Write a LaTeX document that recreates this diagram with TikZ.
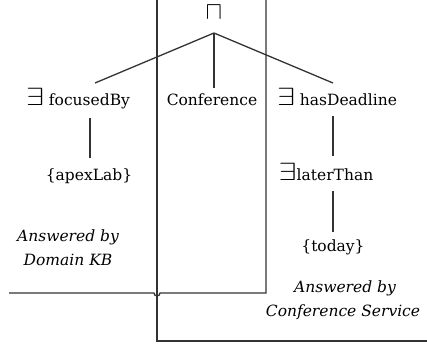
\documentclass[tikz,border=0pt]{standalone}
\usepackage{fontspec}
\setmainfont{DejaVu Serif}
\newcommand{\myex}{\scalebox{1.3}[1]{\fontsize{23}{24}\selectfont$\exists$}}
\begin{document}
\begin{tikzpicture}[x=1pt,y=-1pt,
  lbl/.style={inner sep=0pt,anchor=base,font=\fontsize{15.5}{17}\selectfont},
  ital/.style={inner sep=0pt,anchor=base,font=\fontsize{15.5}{18}\selectfont\itshape},
  ln/.style={line width=1.3pt,black!80}]
\useasboundingbox (0,0) rectangle (427,345);
% symbols and labels
\node[inner sep=0pt,anchor=base] (cap) at (214,19.5) {\fontsize{25}{25}\selectfont\smash{$\sqcap$}};
\coordinate (J) at (214,33);
\node[lbl] (fb) at (78,105) {\myex\ focusedBy};
\node[lbl] (conf) at (212,105) {Conference};
\node[lbl] (hd) at (337,105) {\myex\ hasDeadline};
\node[lbl] (apex) at (89,180) {\{apexLab\}};
\node[lbl] (lt) at (326,180) {\myex laterThan};
\node[lbl] (today) at (333,251) {\{today\}};
\node[ital] (kb1) at (68,241) {Answered by};
\node[ital] (kb2) at (68,265) {Domain KB};
\node[ital] (cs1) at (345,292) {Answered by};
\node[ital] (cs2) at (343,316) {Conference Service};
% tree connectors
\coordinate (fbt) at (95,83);
\coordinate (hdt) at (333,83);
\coordinate (ct) at (214,88);
\coordinate (a1) at (90,118);
\coordinate (a2) at (90,158);
\coordinate (h1) at (333,116);
\coordinate (h2) at (333,156);
\coordinate (l1) at (333,191);
\coordinate (l2) at (333,232);
\draw[ln] (J) -- (fbt);
\draw[ln] (J) -- (hdt);
\draw[ln] (J) -- (ct);
\draw[ln] (a1) -- (a2);
\draw[ln] (h1) -- (h2);
\draw[ln] (l1) -- (l2);
% partition lines
\coordinate (lt0) at (157,0);
\coordinate (lb) at (157,341);
\coordinate (rt0) at (266,0);
\coordinate (rb) at (266,293);
\coordinate (hl) at (9,293);
\coordinate (br) at (427,341);
\draw[ln] (lt0) -- (lb) -- (br);
\draw[ln] (rt0) -- (rb) -- (160,293) arc[start angle=0,end angle=180,radius=3] -- (hl);
\end{tikzpicture}
\end{document}
